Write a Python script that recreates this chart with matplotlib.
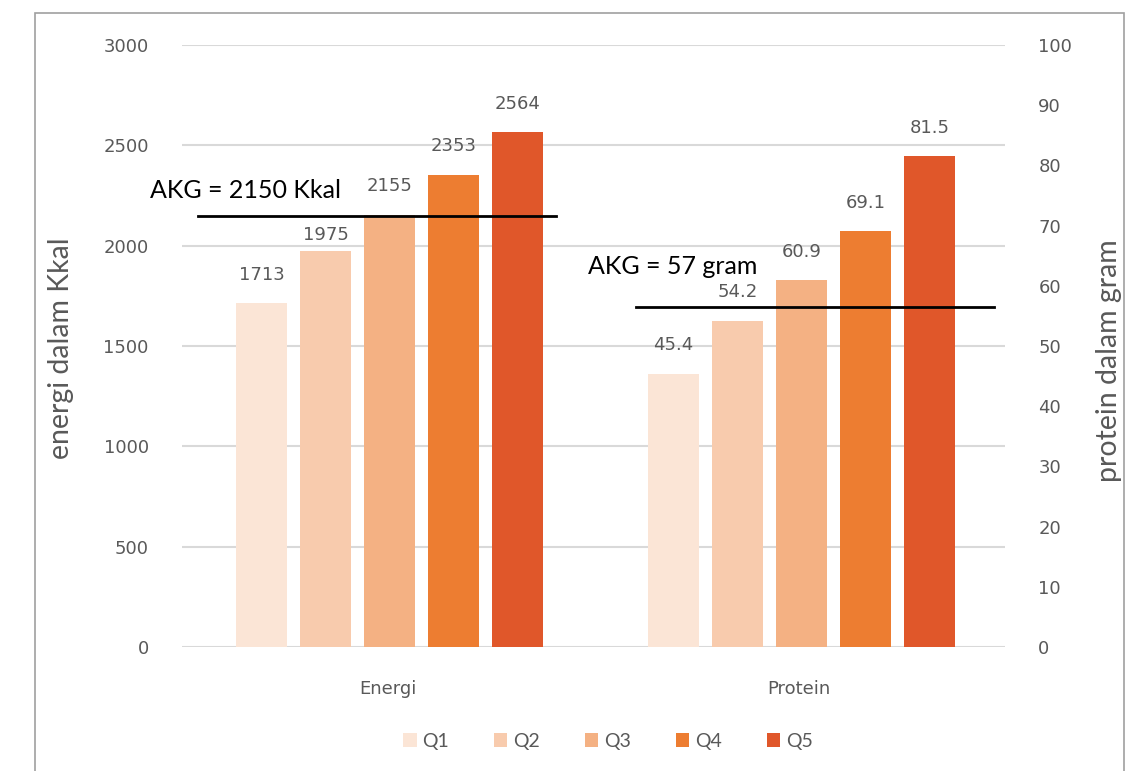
import matplotlib.pyplot as plt
from matplotlib.patches import Rectangle

# data
kategori = ["Energi", "Protein"]
kuintil = ["Q1", "Q2", "Q3", "Q4", "Q5"]
energi = [1713, 1975, 2155, 2353, 2564]
protein = [45.4, 54.2, 60.9, 69.1, 81.5]
energi_label = ["1713", "1975", "2155", "2353", "2564"]
protein_label = ["45.4", "54.2", "60.9", "69.1", "81.5"]
akg_energi = 2150
akg_protein = 57
warna = ["#FBE5D6", "#F8CBAD", "#F4B183", "#ED7D31", "#E0572A"]

abu = "#595959"

fig = plt.figure(figsize=(11.32, 7.71), dpi=100)
ax = fig.add_axes([182/1132, 1-647/771, (1005-182)/1132, (647-45)/771])
ax2 = ax.twinx()

lebar = 0.124
jarak = 0.1555
# label 1975 digeser turun supaya tidak kena garis AKG
pad_energi = [14, 5, 14, 14, 14]
handles = []
for i in range(len(kuintil)):
    off = (i - 2) * jarak + 0.005
    b1 = ax.bar(0 + off, energi[i], width=lebar, color=warna[i], label=kuintil[i], zorder=3)
    ax.bar_label(b1, labels=[energi_label[i]], padding=pad_energi[i], fontsize=13, color=abu)
    b2 = ax2.bar(1 + off, protein[i], width=lebar, color=warna[i], zorder=3)
    ax2.bar_label(b2, labels=[protein_label[i]], padding=14, fontsize=13, color=abu)
    handles.append(b1)

ax.set_xlim(-0.5, 1.5)
ax.set_ylim(0, 3000)
ax2.set_ylim(0, 100)
ax.set_yticks(range(0, 3001, 500))
ax2.set_yticks(range(0, 101, 10))
ax.set_xticks([0, 1])
ax.set_xticklabels(kategori)
ax.tick_params(axis="x", length=0, pad=24, labelsize=13, labelcolor=abu)
ax.tick_params(axis="y", length=0, pad=24, labelsize=13, labelcolor=abu)
ax2.tick_params(axis="y", length=0, pad=24, labelsize=13, labelcolor=abu)
ax.grid(axis="y", color="#D9D9D9", linewidth=1.5, zorder=0)
for s in ["top", "right", "bottom", "left"]:
    ax.spines[s].set_visible(False)
    ax2.spines[s].set_visible(False)

ax.set_ylabel("energi dalam Kkal", fontsize=20.5, color=abu, family="Lato")
ax.yaxis.set_label_coords(-0.131, 0.497)
ax2.set_ylabel("protein dalam gram", fontsize=20.5, color=abu, family="Lato")
ax2.yaxis.set_label_coords(1.11, 0.475)

# garis AKG
ax.plot([-0.461, 0.409], [akg_energi, akg_energi], color="black", linewidth=2, zorder=5)
ax2.plot([0.603, 1.473], [akg_protein - 0.5, akg_protein - 0.5], color="black", linewidth=2, zorder=5)
ax.text(-0.578, akg_energi + 125, "AKG = 2150 Kkal", fontsize=18, family="Lato",
        color="black", va="center", ha="left", clip_on=False)
ax2.text(0.487, akg_protein + 6.2, "AKG = 57 gram", fontsize=18, family="Lato",
         color="black", va="center", ha="left")

fig.legend(handles=handles, labels=kuintil, loc="center", bbox_to_anchor=(608/1132, 1-741/771),
           ncol=5, frameon=False, prop={"family": "Lato", "size": 14},
           handlelength=0.7, handleheight=0.7, columnspacing=2.3, handletextpad=0.3,
           labelcolor=abu)

# bingkai
fig.add_artist(Rectangle((35/1132, -0.05), (1124-35)/1132, 1.05-13/771,
                         transform=fig.transFigure, fill=False, edgecolor="#A0A0A0", linewidth=1.2))

fig.savefig("out.png", dpi=100)
